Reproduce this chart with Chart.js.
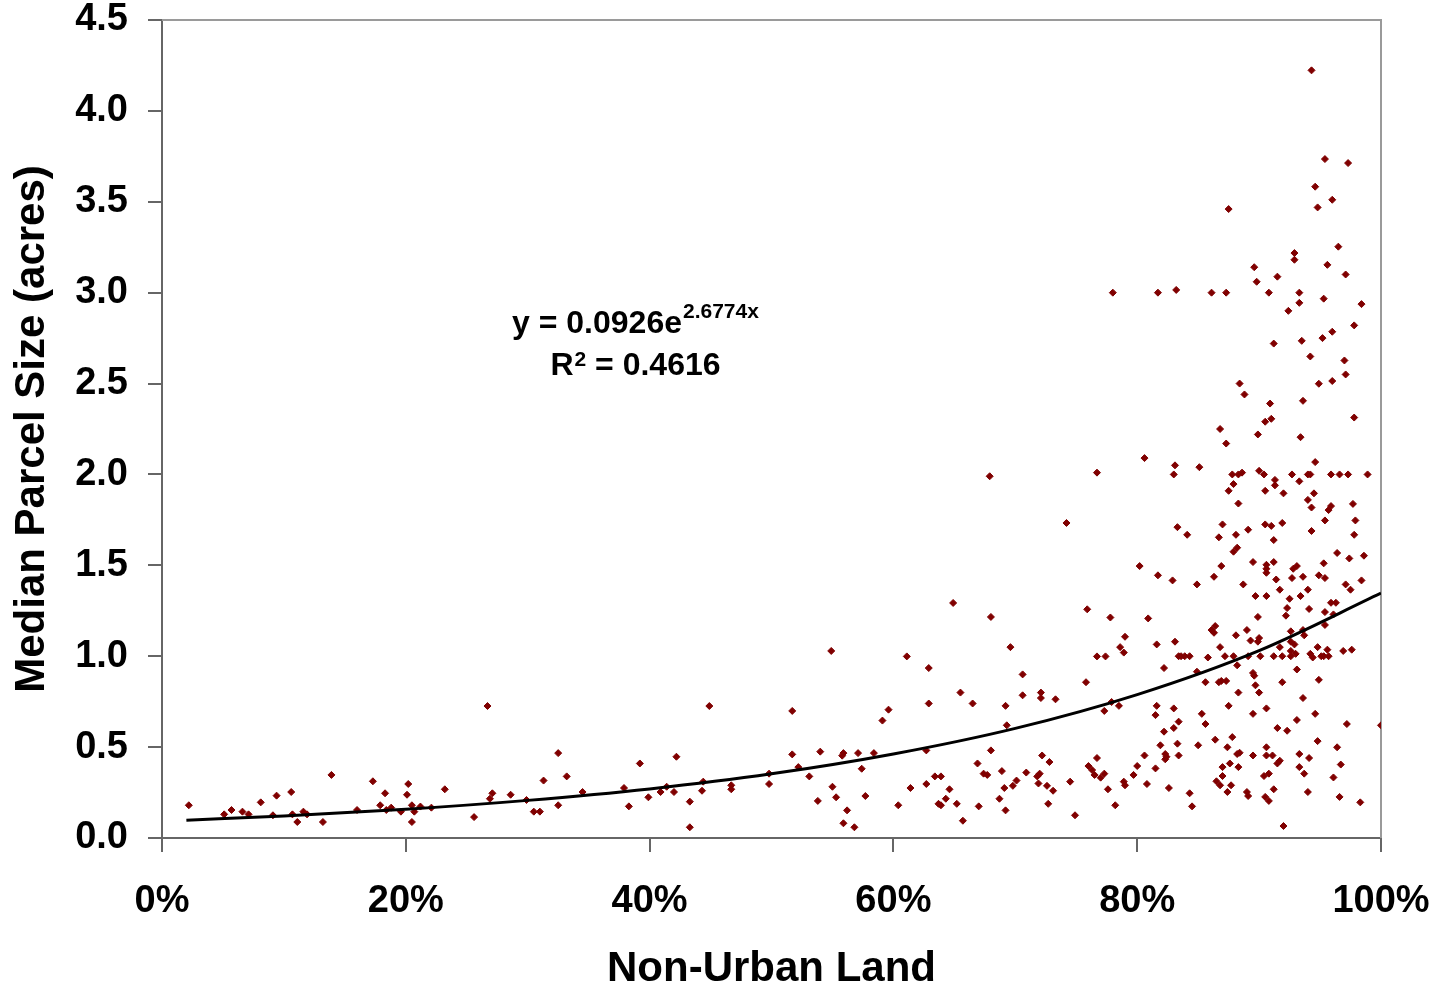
<!DOCTYPE html>
<html>
<head>
<meta charset="utf-8">
<script src="https://cdn.jsdelivr.net/npm/chart.js@4.4.1/dist/chart.umd.min.js"></script>
<style>
  html, body { margin: 0; padding: 0; background: #fff; }
  #wrap { width: 1445px; height: 990px; }
</style>
</head>
<body>
<div id="wrap"><canvas id="parcelChart" width="1445" height="990"></canvas></div>
<script>
'use strict';

// share of non-urban land (0..1) and median parcel size in acres
var landShare = [
  0.022, 0.051, 0.057, 0.066, 0.071, 0.081, 0.091, 0.094, 0.106, 0.107, 0.111, 0.116, 0.119, 0.132, 0.139,
  0.160, 0.173, 0.179, 0.183, 0.184, 0.188, 0.196, 0.202, 0.201, 0.205, 0.205, 0.207, 0.212, 0.221, 0.232,
  0.256, 0.267, 0.269, 0.271, 0.286, 0.299, 0.305, 0.310, 0.313, 0.325, 0.325, 0.332, 0.345, 0.379, 0.383,
  0.392, 0.399, 0.409, 0.414, 0.420, 0.422, 0.433, 0.433, 0.443, 0.444, 0.449, 0.467, 0.467,
  0.498, 0.498, 0.517, 0.517, 0.522, 0.531, 0.538, 0.540, 0.549, 0.550, 0.553, 0.558, 0.559, 0.559, 0.562,
  0.568, 0.571, 0.574, 0.577, 0.584, 0.591, 0.596, 0.604, 0.611, 0.614, 0.627, 0.627, 0.629, 0.629, 0.634,
  0.639, 0.637, 0.639, 0.643, 0.646, 0.649, 0.652, 0.655, 0.657, 0.665, 0.669, 0.670, 0.674, 0.677, 0.679,
  0.680, 0.680, 0.687,
  0.689, 0.691, 0.692, 0.692, 0.693, 0.696, 0.698, 0.701, 0.706, 0.706, 0.709, 0.718, 0.719, 0.720, 0.721,
  0.721, 0.722, 0.726, 0.727, 0.728, 0.731, 0.733, 0.742, 0.745, 0.749, 0.758, 0.759, 0.760, 0.763, 0.765,
  0.767, 0.767, 0.767, 0.770, 0.773, 0.773, 0.774, 0.776, 0.778, 0.779, 0.782, 0.785, 0.786, 0.789, 0.790,
  0.789, 0.790, 0.797, 0.800, 0.802, 0.780,
  0.875, 0.896, 0.898, 0.817, 0.832, 0.861, 0.873, 0.884, 0.888, 0.868, 0.873, 0.899, 0.806, 0.831, 0.830,
  0.851, 0.878, 0.883, 0.886, 0.900, 0.879, 0.875,
  0.943, 0.954, 0.973, 0.946, 0.960, 0.948, 0.965, 0.929, 0.929, 0.956, 0.971, 0.915, 0.908, 0.933, 0.933,
  0.924, 0.953, 0.984, 0.978, 0.960, 0.952, 0.935, 0.912, 0.942, 0.970, 0.971, 0.960, 0.949, 0.909, 0.936,
  0.905, 0.910, 0.978, 0.934, 0.946, 0.904, 0.913, 0.913, 0.927, 0.933, 0.940, 0.942, 0.959, 0.966, 0.973,
  0.989, 0.905, 0.920, 0.945, 0.940,
  0.883, 0.833, 0.841, 0.870, 0.867, 0.881, 0.891, 0.879, 0.882, 0.817, 0.829, 0.849, 0.863, 0.869, 0.895,
  0.887, 0.897, 0.809, 0.899, 0.861, 0.864, 0.863, 0.890, 0.881, 0.816, 0.831, 0.893, 0.868, 0.899, 0.834,
  0.836, 0.839, 0.843, 0.858, 0.872, 0.879, 0.891, 0.822, 0.882, 0.849, 0.895, 0.896, 0.856, 0.867, 0.869,
  0.873, 0.897, 0.883, 0.816, 0.815, 0.830, 0.834, 0.830, 0.822, 0.853, 0.856, 0.875, 0.895, 0.819, 0.833,
  0.850, 0.864, 0.878, 0.874, 0.806, 0.823, 0.824, 0.823, 0.834, 0.882, 0.884, 0.895, 0.815, 0.870, 0.876,
  0.883, 0.870, 0.865, 0.868, 0.877, 0.874, 0.808, 0.826, 0.843, 0.845, 0.890, 0.891,
  0.943, 0.957, 0.959, 0.977, 0.979, 0.954, 0.905, 0.910, 0.919, 0.943, 0.978, 0.912, 0.912, 0.906, 0.906,
  0.906, 0.964, 0.974, 0.986, 0.953, 0.928, 0.931, 0.927, 0.936, 0.949, 0.954, 0.914, 0.984, 0.971, 0.975,
  0.917, 0.940, 0.906, 0.934, 0.925, 0.959, 0.963, 0.923, 0.941, 0.954, 0.961, 0.922, 0.954, 0.926, 0.936,
  0.937, 0.900, 0.926, 0.929, 0.917, 0.948, 0.926, 0.956, 0.969, 0.976, 0.901, 0.912, 0.919, 0.926, 0.930,
  0.942, 0.944, 0.951, 0.953, 0.957, 0.931, 0.900, 0.919, 0.949, 0.936, 0.906, 0.946, 0.931, 0.915, 0.923,
  0.972, 1.000, 0.948, 0.964, 0.906, 0.906, 0.911, 0.933, 0.941, 0.917, 0.915, 0.967, 0.933, 0.937, 0.904,
  0.908, 0.961, 0.912, 0.940, 0.905, 0.908, 0.966, 0.983, 0.920
];
var parcelAcres = [
  0.180, 0.130, 0.154, 0.145, 0.130, 0.196, 0.125, 0.233, 0.253, 0.130, 0.088, 0.145, 0.130, 0.088, 0.347,
  0.154, 0.312, 0.180, 0.246, 0.154, 0.167, 0.145, 0.297, 0.238, 0.180, 0.088, 0.145, 0.173, 0.167, 0.268,
  0.115, 0.726, 0.216, 0.246, 0.238, 0.209, 0.145, 0.145, 0.316, 0.467, 0.180, 0.339, 0.253, 0.275, 0.174,
  0.410, 0.224, 0.253, 0.282, 0.253, 0.447, 0.200, 0.059, 0.260, 0.310, 0.726, 0.290, 0.268,
  0.354, 0.297, 0.699, 0.460, 0.390, 0.339, 0.204, 0.475, 1.029, 0.282, 0.224, 0.453, 0.467, 0.081, 0.152,
  0.059, 0.467, 0.381, 0.231, 0.467, 0.646, 0.706, 0.180, 0.999, 0.275, 0.297, 0.482, 0.935, 0.740, 0.339,
  0.339, 0.188, 0.180, 0.216, 0.268, 1.293, 0.188, 0.800, 0.095, 0.740, 0.410, 0.174, 0.354, 0.347, 1.990,
  1.216, 0.482, 0.216,
  0.368, 0.275, 0.152, 0.727, 0.620, 1.050, 0.287, 0.316, 0.900, 0.785, 0.360, 0.339, 0.300, 0.354, 0.800,
  0.770, 0.454, 0.287, 0.188, 0.418, 0.260, 0.763, 1.733, 0.310, 0.125, 0.857, 1.258, 0.396, 0.374, 0.347,
  0.999, 2.010, 0.440, 0.332, 0.354, 0.699, 0.999, 0.268, 1.213, 0.748, 0.180, 0.727, 1.050, 1.020, 1.107,
  0.310, 0.290, 0.347, 0.396, 1.496, 3.000,
  3.460, 3.140, 3.060, 3.000, 3.015, 3.000, 3.000, 2.500, 2.440, 2.250, 2.170, 2.220, 2.090, 2.050, 2.000,
  2.040, 2.000, 2.000, 2.010, 2.020, 1.947, 1.910,
  4.223, 3.735, 3.713, 3.583, 3.511, 3.469, 3.253, 3.218, 3.181, 3.153, 3.100, 3.088, 3.000, 3.000, 2.944,
  2.900, 2.967, 2.937, 2.820, 2.785, 2.750, 2.735, 2.720, 2.649, 2.627, 2.550, 2.514, 2.499, 2.390, 2.405,
  2.290, 2.306, 2.313, 2.205, 2.068, 2.000, 1.970, 1.940, 2.000, 1.962, 2.000, 2.000, 2.000, 2.000, 2.000,
  2.000, 1.910, 1.896, 1.896, 1.860,
  1.840, 1.710, 1.668, 1.725, 1.654, 1.668, 1.696, 1.575, 1.597, 1.445, 1.417, 1.395, 1.437, 1.496, 1.518,
  1.395, 1.331, 1.208, 1.216, 1.144, 1.166, 1.129, 1.144, 1.115, 1.065, 1.080, 1.086, 1.050, 1.080, 1.000,
  1.000, 1.000, 1.000, 0.993, 1.000, 1.000, 1.000, 0.935, 0.950, 0.915, 0.908, 0.893, 0.857, 0.857, 0.864,
  0.864, 0.840, 0.800, 0.727, 0.676, 0.713, 0.640, 0.605, 0.585, 0.683, 0.627, 0.727, 0.683, 0.510, 0.519,
  0.510, 0.541, 0.555, 0.499, 0.454, 0.462, 0.447, 0.433, 0.454, 0.462, 0.469, 0.454, 0.383, 0.390, 0.410,
  0.390, 0.341, 0.312, 0.290, 0.290, 0.253, 0.297, 0.275, 0.246, 0.174, 0.253, 0.231,
  1.818, 1.804, 1.826, 1.838, 1.747, 1.747, 1.725, 1.717, 1.733, 1.689, 1.668, 1.639, 1.518, 1.503, 1.481,
  1.459, 1.568, 1.538, 1.553, 1.511, 1.481, 1.496, 1.430, 1.437, 1.445, 1.430, 1.422, 1.417, 1.395, 1.366,
  1.366, 1.366, 1.331, 1.331, 1.316, 1.294, 1.294, 1.265, 1.260, 1.243, 1.230, 1.223, 1.172, 1.137, 1.144,
  1.115, 1.100, 1.080, 1.065, 1.050, 1.050, 1.029, 1.036, 1.029, 1.036, 1.000, 1.000, 1.000, 1.000, 1.013,
  1.013, 0.993, 1.000, 1.000, 1.000, 0.927, 0.800, 0.857, 0.870, 0.770, 0.713, 0.683, 0.649, 0.605, 0.590,
  0.627, 0.620, 0.533, 0.499, 0.499, 0.454, 0.454, 0.462, 0.440, 0.425, 0.410, 0.404, 0.390, 0.354, 0.341,
  0.354, 0.333, 0.268, 0.253, 0.226, 0.204, 0.226, 0.196, 0.066
];

// exponential trendline, points
var trendX = [0.02, 0.1, 0.2, 0.3, 0.4, 0.5, 0.6, 0.7, 0.8, 0.9, 1.0];
var trendY = [0.098, 0.121, 0.158, 0.207, 0.270, 0.353, 0.462, 0.603, 0.789, 1.031, 1.347];

var xTicks = ['0%', '20%', '40%', '60%', '80%', '100%'];
var eqMain = 'y = 0.0926e';
var eqExp = '2.6774x';
var rMain = 'R';
var rExp = '2';
var rRest = ' = 0.4616';

var FONT = 'Arial, "Liberation Sans", sans-serif';

var scatterPts = landShare.map(function(x, i) { return { x: x, y: parcelAcres[i] }; });
var trendPts = trendX.map(function(x, i) { return { x: x, y: trendY[i] }; });

/*----frame and equation----*/
var framePlugin = {
	id: 'frame',
	beforeDatasetsDraw: function(chart) {
		var a = chart.chartArea, ctx = chart.ctx;
		ctx.save();
		ctx.strokeStyle = '#9a9a9a';
		ctx.lineWidth = 2;
		ctx.beginPath();
		ctx.moveTo(a.left, a.top);
		ctx.lineTo(a.right, a.top);
		ctx.lineTo(a.right, a.bottom);
		ctx.stroke();
		ctx.restore();
	},
	afterDraw: function(chart) {
		var ctx = chart.ctx;
		var cx = chart.scales.x.getPixelForValue(0.388);
		ctx.save();
		ctx.fillStyle = '#000';
		ctx.textBaseline = 'alphabetic';
		ctx.textAlign = 'left';
		// line 1
		ctx.font = 'bold 32px ' + FONT;
		var w1 = ctx.measureText(eqMain).width;
		ctx.font = 'bold 21px ' + FONT;
		var w2 = ctx.measureText(eqExp).width;
		var x0 = cx - (w1 + w2) / 2;
		ctx.font = 'bold 32px ' + FONT;
		ctx.fillText(eqMain, x0, 333);
		ctx.font = 'bold 21px ' + FONT;
		ctx.fillText(eqExp, x0 + w1 + 1, 318);
		// line 2
		ctx.font = 'bold 32px ' + FONT;
		var r1 = ctx.measureText(rMain).width;
		var r3 = ctx.measureText(rRest).width;
		ctx.font = 'bold 21px ' + FONT;
		var r2 = ctx.measureText(rExp).width;
		var x1 = cx - (r1 + r2 + r3) / 2;
		ctx.font = 'bold 32px ' + FONT;
		ctx.fillText(rMain, x1, 375);
		ctx.font = 'bold 21px ' + FONT;
		ctx.fillText(rExp, x1 + r1 + 1, 366);
		ctx.font = 'bold 32px ' + FONT;
		ctx.fillText(rRest, x1 + r1 + r2 + 1, 375);
		ctx.restore();
	}
};

var ctx = document.getElementById('parcelChart').getContext('2d');
var myChart = new Chart(ctx, {
	type: 'scatter',
	data: {
		datasets: [{
			label: 'Trend',
			data: trendPts,
			showLine: true,
			borderColor: '#000',
			borderWidth: 3,
			pointRadius: 0,
			cubicInterpolationMode: 'monotone',
			order: 0
		}, {
			label: 'Parcels',
			data: scatterPts,
			pointStyle: 'rectRot',
			pointRadius: 3.5,
			borderWidth: 1,
			backgroundColor: '#800000',
			borderColor: '#800000',
			order: 1
		}]
	},
	options: {
		responsive: false,
		animation: false,
		layout: { padding: { top: 20, right: 64, left: 0, bottom: 0 } },
		plugins: {
			legend: { display: false },
			tooltip: { enabled: false }
		},
		scales: {
			x: {
				type: 'linear',
				min: 0,
				max: 1,
				afterFit: function(s) {
					s.height = 152;
					s.paddingLeft = 0;
					s.paddingRight = 0;
				},
				afterBuildTicks: function(s) {
					s.ticks = xTicks.map(function(t, i) { return { value: i * 0.2 }; });
				},
				ticks: {
					color: '#000',
					font: { family: FONT, size: 38, weight: 'bold' },
					padding: 27,
					maxRotation: 0,
					callback: function(v, i) { return xTicks[i]; }
				},
				grid: { drawOnChartArea: false, drawTicks: true, tickLength: 14, color: '#666', lineWidth: 2 },
				border: { display: true, color: '#666', width: 2 },
				title: {
					display: true,
					text: 'Non-Urban Land',
					color: '#000',
					font: { family: FONT, size: 42, weight: 'bold', lineHeight: 1.0 },
					padding: { top: 0, bottom: 0 }
				}
			},
			y: {
				min: 0,
				max: 4.5,
				afterFit: function(s) {
					s.width = 162;
					s.paddingTop = 0;
					s.paddingBottom = 0;
				},
				ticks: {
					stepSize: 0.5,
					color: '#000',
					font: { family: FONT, size: 38, weight: 'bold' },
					padding: 20,
					callback: function(v) { return v.toFixed(1); }
				},
				grid: { drawOnChartArea: false, drawTicks: true, tickLength: 14, color: '#666', lineWidth: 2 },
				border: { display: true, color: '#666', width: 2 },
				title: {
					display: true,
					text: 'Median Parcel Size (acres)',
					color: '#000',
					font: { family: FONT, size: 42, weight: 'bold' },
					padding: { top: 7, bottom: 0 }
				}
			}
		}
	},
	plugins: [framePlugin]
});
</script>
</body>
</html>
